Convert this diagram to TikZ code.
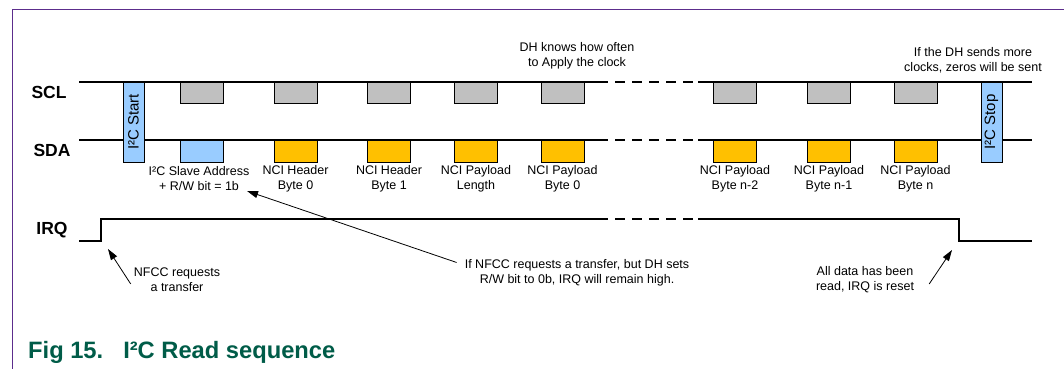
\documentclass[tikz,border=0pt]{standalone}
\usepackage{fontspec}
\setmainfont{Liberation Sans}
\usetikzlibrary{arrows.meta}
\definecolor{framepurple}{RGB}{92,45,140}
\definecolor{figgreen}{RGB}{0,92,72}
\definecolor{clkgray}{RGB}{192,192,192}
\definecolor{adrblue}{RGB}{153,204,255}
\definecolor{datorange}{RGB}{255,192,0}
\tikzset{
  sig/.style={line width=1.3pt},
  gapline/.style={sig,dash pattern=on 10pt off 7pt},
  byte/.style={draw,line width=1pt,minimum width=43pt,minimum height=21pt,inner sep=0pt},
  bar/.style={draw,line width=1pt,fill=adrblue,rotate=90,minimum width=80pt,minimum height=21pt,inner sep=0pt,font=\fontsize{15}{17}\selectfont},
  signame/.style={font=\bfseries\fontsize{17.5}{20}\selectfont,inner sep=0pt},
  note/.style={align=center,font=\fontsize{12.5}{15}\selectfont,inner sep=0pt},
  pointer/.style={-{Triangle[length=11pt,width=7pt]},line width=0.8pt},
  caption/.style={font=\bfseries\fontsize{23.7}{28}\selectfont,text=figgreen,inner sep=0pt}
}
\begin{document}
\begin{tikzpicture}[x=1pt,y=-1pt]
  \useasboundingbox(0,0)rectangle(1064,369);
  \draw[framepurple,line width=1pt](1064,10)--(12,10)--(12,369);
  \node[signame](scl)at(49,92){SCL};
  \node[signame](sda)at(52,150){SDA};
  \node[signame](irq)at(52,230){IRQ};
  \foreach \y in {82,140}{
    \draw[sig](79,\y)--(598,\y);
    \draw[gapline](598,\y)--(698,\y);
    \draw[sig](698,\y)--(1032,\y);
  }
  \draw[sig](79,241)--(101,241)--(101,219)--(598,219);
  \draw[gapline](598,219)--(698,219);
  \draw[sig](698,219)--(959,219)--(959,241)--(1032,241);
  \node[bar](start)at(133.5,122){I²C Start};
  \node[bar](stop)at(991.5,122){I²C Stop};
  \foreach \x [count=\i] in {202,295.5,389,476,562.5,735,829,915.5}
    \node[byte,fill=clkgray](clk\i)at(\x,92.5){};
  \node[byte,fill=adrblue,minimum height=22pt](dat1)at(202,151){};
  \foreach \x [count=\i from 2] in {295.5,389,476,562.5,735,829,915.5}
    \node[byte,fill=datorange,minimum height=22pt](dat\i)at(\x,151){};
  \foreach \x/\txt [count=\i] in {199/{I²C Slave Address\\+ R/W bit = 1b},295.5/{NCI Header\\Byte 0},
      389/{NCI Header\\Byte 1},476/{NCI Payload\\Length},562.5/{NCI Payload\\Byte 0},
      735/{NCI Payload\\Byte n-2},829/{NCI Payload\\Byte n-1},915.5/{NCI Payload\\Byte n}}
    \node[note](lbl\i)at(\x,179){\txt};
  \node[note](often)at(577,56){DH knows how often\\to Apply the clock};
  \node[note](more)at(973,60){If the DH sends more\\clocks, zeros will be sent};
  \node[note](nfcc)at(177,280){NFCC requests\\a transfer};
  \node[note](rwbit)at(577,273){If NFCC requests a transfer, but DH sets\\R/W bit to 0b, IRQ will remain high.};
  \node[note](alldata)at(865,280){All data has been\\read, IRQ is reset};
  \coordinate(rise)at(108,249);
  \coordinate(rwtip)at(247,191);
  \coordinate(fall)at(952,250);
  \draw[pointer]([xshift=-3pt,yshift=-4pt]nfcc.west)--(rise);
  \draw[pointer]([xshift=-8pt,yshift=-3pt]rwbit.north west)--(rwtip);
  \draw[pointer]([xshift=15pt,yshift=-4pt]alldata.east)--(fall);
  \node[caption,anchor=west](fig)at(28,352){Fig 15.\hspace{20pt}I²C Read sequence};
\end{tikzpicture}
\end{document}
